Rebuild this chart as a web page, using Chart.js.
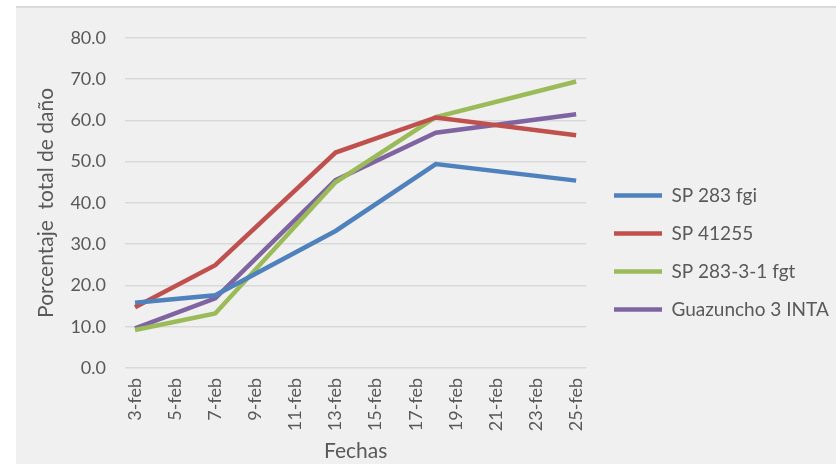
<!DOCTYPE html>
<html>
<head>
<meta charset="utf-8">
<script src="https://cdn.jsdelivr.net/npm/chart.js@4"></script>
<style>
  html, body { margin: 0; padding: 0; background: #ffffff; overflow: hidden; }
  #marco {
    position: absolute; left: 16px; top: 6px; width: 820px; height: 456px;
    border-top: 2px solid #d9d9d9; background: #f0f0f0;
  }
</style>
</head>
<body>
<div id="marco"><canvas id="grafico" width="820" height="456"></canvas></div>
<script>
// eje X: un día por categoría, etiqueta cada dos días
const dias = ['3-feb', '4-feb', '5-feb', '6-feb', '7-feb', '8-feb', '9-feb', '10-feb', '11-feb', '12-feb',
  '13-feb', '14-feb', '15-feb', '16-feb', '17-feb', '18-feb', '19-feb', '20-feb', '21-feb', '22-feb',
  '23-feb', '24-feb', '25-feb'];
const fechasMuestreo = ['3-feb', '7-feb', '13-feb', '18-feb', '25-feb'];

const sp283fgi = [15.8, 17.6, 33.2, 49.4, 45.4];
const sp41255 = [14.7, 24.9, 52.2, 60.7, 56.4];
const sp2833fgt = [9.2, 13.2, 45.0, 60.8, 69.4];
const guazuncho = [9.6, 16.9, 45.5, 57.0, 61.5];

const colorTexto = '#595959';

const serie = (label, valores, color) => ({
    label: label,
    data: fechasMuestreo.map((f, i) => ({ x: f, y: valores[i] })),
    borderColor: color,
    backgroundColor: color,
    borderWidth: 4.5,
    pointRadius: 0,
    pointStyle: 'line',
    tension: 0
});

// mueve la leyenda a su sitio
const ajusteLeyenda = {
    id: 'ajusteLeyenda',
    afterLayout(chart) {
        const lg = chart.legend;
        const dx = 598 - 19 - lg.left;
        lg.left += dx; lg.right += dx;
        lg.top += 5; lg.bottom += 5;
    }
};

document.addEventListener('DOMContentLoaded', () => {
    const ctx = document.getElementById('grafico').getContext('2d');
    new Chart(ctx, {
        type: 'line',
        data: {
            labels: dias,
            datasets: [
                serie('SP 283 fgi', sp283fgi, '#4F81BD'),
                serie('SP 41255', sp41255, '#C0504D'),
                serie('SP 283-3-1 fgt', sp2833fgt, '#9BBB59'),
                serie('Guazuncho 3 INTA', guazuncho, '#8064A2')
            ]
        },
        options: {
            responsive: false,
            animation: false,
            layout: { padding: { top: 23, right: 6, left: 0, bottom: 0 } },
            scales: {
                x: {
                    type: 'category',
                    offset: true,
                    grid: { display: false, drawTicks: false },
                    border: { display: false },
                    ticks: {
                        autoSkip: false,
                        minRotation: 90,
                        maxRotation: 90,
                        padding: 10,
                        color: colorTexto,
                        font: { family: 'Lato', size: 18 },
                        callback: function (value, index) {
                            return index % 2 === 0 ? this.getLabelForValue(value) : '';
                        }
                    },
                    title: {
                        display: true,
                        text: 'Fechas',
                        color: colorTexto,
                        font: { family: 'Lato', size: 21 },
                        padding: { top: 0, bottom: 0 }
                    },
                    afterFit: (scale) => { scale.height = 96; }
                },
                y: {
                    min: 0,
                    max: 80,
                    grid: { color: '#d9d9d9', lineWidth: 1.5, drawTicks: false },
                    border: { display: false },
                    ticks: {
                        stepSize: 10,
                        padding: 19,
                        color: colorTexto,
                        font: { family: 'Lato', size: 18 },
                        callback: (v) => v.toFixed(1)
                    },
                    title: {
                        display: true,
                        text: 'Porcentaje  total de daño',
                        color: colorTexto,
                        font: { family: 'Lato', size: 21 },
                        padding: { top: 18, bottom: 0 }
                    },
                    afterFit: (scale) => { scale.width = 109; }
                }
            },
            plugins: {
                legend: {
                    position: 'right',
                    maxWidth: 300,
                    labels: {
                        usePointStyle: true,
                        pointStyle: 'line',
                        pointStyleWidth: 48,
                        padding: 19,
                        color: colorTexto,
                        font: { family: 'Lato', size: 19 }
                    }
                },
                tooltip: { enabled: false }
            }
        },
        plugins: [ajusteLeyenda]
    });
});
</script>
</body>
</html>
